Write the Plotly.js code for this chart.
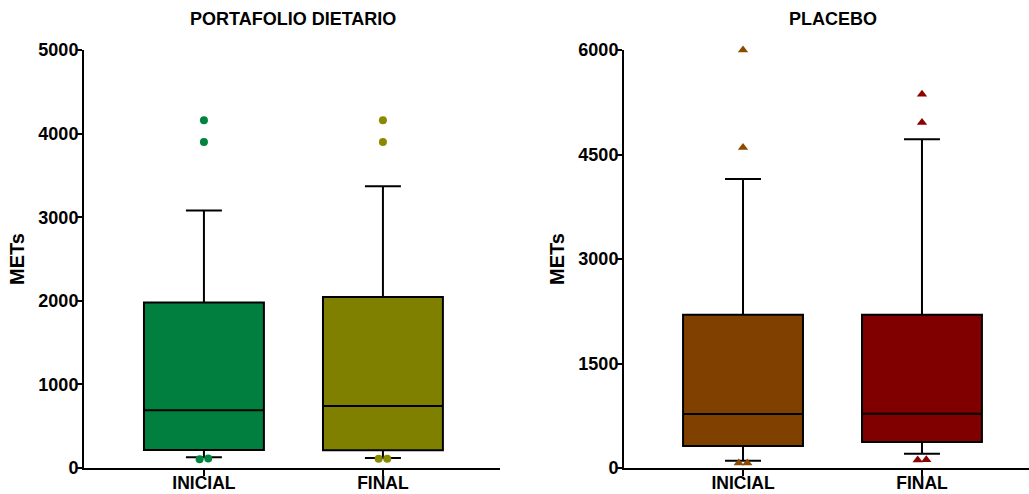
<!DOCTYPE html>
<html>
<head>
<meta charset="utf-8">
<script src="https://cdn.plot.ly/plotly-3.0.1.min.js"></script>
<style>html,body{margin:0;padding:0;background:#fff;}#chart{width:1029px;height:494px;}</style>
</head>
<body>
<div id="chart"></div>
<script>
// ---- data ----
const categories = ['INICIAL', 'FINAL'];
const panelTitles = ['PORTAFOLIO DIETARIO', 'PLACEBO'];
const yTickVals1 = [0, 1000, 2000, 3000, 4000, 5000];
const yTickVals2 = [0, 1500, 3000, 4500, 6000];

// Portafolio dietario
const pdQ1 = [215, 212];
const pdMedian = [690, 742];
const pdQ3 = [1980, 2045];
const pdLowerWhisker = [130, 120];
const pdUpperWhisker = [3080, 3370];
const pdHighOutliersInicial = [4160, 3900];
const pdHighOutliersFinal = [4160, 3900];
const pdLowOutliersInicial = [105, 115];
const pdLowOutliersFinal = [110, 110];

// Placebo
const plQ1 = [315, 375];
const plMedian = [775, 780];
const plQ3 = [2200, 2200];
const plLowerWhisker = [105, 205];
const plUpperWhisker = [4150, 4720];
const plHighOutliersInicial = [6000, 4600];
const plHighOutliersFinal = [5365, 4960];
const plLowOutliersInicial = [70, 70];
const plLowOutliersFinal = [115, 120];

// ---- styles ----
const boxColors1 = ['#007f3f', '#808000'];
const boxColors2 = ['#804000', '#800000'];
const markColors1 = ['#00843f', '#8a8a00'];
const markColors2 = ['#8b4a00', '#8b0000'];
const pairOffsets = [-0.024, 0.024];
const FONT = 'Liberation Sans, Arial, sans-serif';

const traces = [];
function addBoxes(q1, med, q3, lo, hi, colors, xa, ya) {
  for (let i = 0; i < categories.length; i++) {
    traces.push({
      type: 'box', x: [i], q1: [q1[i]], median: [med[i]], q3: [q3[i]],
      lowerfence: [lo[i]], upperfence: [hi[i]],
      boxpoints: false, width: 0.67, whiskerwidth: 0.3,
      fillcolor: colors[i], line: {color: '#000', width: 2},
      xaxis: xa, yaxis: ya, hoverinfo: 'y', showlegend: false
    });
  }
}
function addPoints(vals, idx, offsets, color, symbol, xa, ya) {
  traces.push({
    type: 'scatter', mode: 'markers', cliponaxis: false,
    x: vals.map((v, k) => idx + (offsets ? offsets[k] : 0)), y: vals,
    marker: {color: color, size: symbol === 'circle' ? 8 : 9, symbol: symbol},
    xaxis: xa, yaxis: ya, showlegend: false, hoverinfo: 'y'
  });
}
addBoxes(pdQ1, pdMedian, pdQ3, pdLowerWhisker, pdUpperWhisker, boxColors1, 'x', 'y');
addBoxes(plQ1, plMedian, plQ3, plLowerWhisker, plUpperWhisker, boxColors2, 'x2', 'y2');
addPoints(pdHighOutliersInicial, 0, null, markColors1[0], 'circle', 'x', 'y');
addPoints(pdHighOutliersFinal, 1, null, markColors1[1], 'circle', 'x', 'y');
addPoints(pdLowOutliersInicial, 0, pairOffsets, markColors1[0], 'circle', 'x', 'y');
addPoints(pdLowOutliersFinal, 1, pairOffsets, markColors1[1], 'circle', 'x', 'y');
addPoints(plHighOutliersInicial, 0, null, markColors2[0], 'triangle-up', 'x2', 'y2');
addPoints(plHighOutliersFinal, 1, null, markColors2[1], 'triangle-up', 'x2', 'y2');
addPoints(plLowOutliersInicial, 0, pairOffsets, markColors2[0], 'triangle-up', 'x2', 'y2');
addPoints(plLowOutliersFinal, 1, pairOffsets, markColors2[1], 'triangle-up', 'x2', 'y2');

const W = 1029;
const xCommon = {
  tickvals: [0, 1], ticktext: categories, ticks: 'outside', ticklen: 6, tickwidth: 2,
  tickcolor: '#000', showline: true, linecolor: '#000', linewidth: 2,
  showgrid: false, zeroline: false, fixedrange: true, ticklabelstandoff: -8,
  tickfont: {family: FONT, size: 17.5, color: '#000', weight: 'bold'}
};
const yCommon = {
  ticks: 'outside', ticklen: 6, tickwidth: 2, tickcolor: '#000',
  showline: true, linecolor: '#000', linewidth: 2, showgrid: false, zeroline: false,
  ticklabelstandoff: -6,
  tickfont: {family: FONT, size: 18, color: '#000', weight: 'bold'},
  title: {text: '<b>METs</b>', font: {family: FONT, size: 20, color: '#000'}, standoff: 8},
  automargin: false
};
const layout = {
  width: W, height: 494,
  margin: {l: 0, r: 0, t: 50, b: 26},
  paper_bgcolor: '#fff', plot_bgcolor: '#fff',
  showlegend: false,
  xaxis: Object.assign({}, xCommon, {domain: [84 / W, 500 / W], range: [-0.67, 1.654], anchor: 'y'}),
  xaxis2: Object.assign({}, xCommon, {domain: [624 / W, 1], range: [-0.665, 1.598], anchor: 'y2'}),
  yaxis: Object.assign({}, yCommon, {range: [0, 5000], tickvals: yTickVals1, anchor: 'x'}),
  yaxis2: Object.assign({}, yCommon, {range: [0, 6000], tickvals: yTickVals2, anchor: 'x2'}),
  annotations: panelTitles.map((t, i) => ({
    text: '<b>' + t + '</b>', xref: i === 0 ? 'x' : 'x2', x: 0.5, yref: 'paper',
    y: 1 + 31 / 418, yanchor: 'middle', xanchor: 'center', showarrow: false,
    font: {family: FONT, size: 18, color: '#000'}
  }))
};
Plotly.newPlot('chart', traces, layout, {displayModeBar: false, staticPlot: true});
</script>
</body>
</html>
